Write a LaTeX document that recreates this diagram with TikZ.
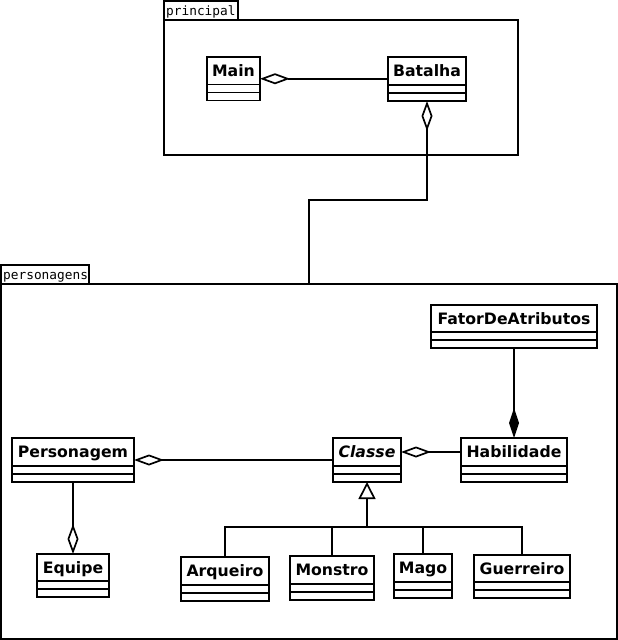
\documentclass[tikz,border=0pt]{standalone}
\usepackage{fontspec}
\setmainfont{DejaVu Sans}
\newfontfamily\tabfont{DejaVu Sans Mono}
\usetikzlibrary{arrows.meta,calc}
\tikzset{
  ln/.style={line width=1.7pt, line join=miter},
  classbox/.style={ln, draw, rectangle, inner sep=0pt, outer sep=0pt, fill=white},
  framebox/.style={ln, draw, rectangle, inner sep=0pt, outer sep=0pt},
  cname/.style={font=\fontsize{15.7}{15}\selectfont\bfseries, anchor=base, inner sep=0pt},
  tabtext/.style={font=\tabfont\fontsize{12.8}{12}\selectfont, anchor=base west, inner sep=0pt},
  agg/.style={ln, {Diamond[open, length=30pt, width=11pt, line width=1.7pt]}-},
  comp/.style={ln, {Diamond[length=30pt, width=10pt]}-},
  gen/.style={ln, -{Triangle[open, length=17pt, width=17pt, line width=1.7pt]}},
}
\newcommand{\umlbox}[6]{%
  \pgfmathsetmacro\bw{#4-#2}\pgfmathsetmacro\bh{#5-#3}%
  \node[classbox, minimum width=\bw pt, minimum height=\bh pt, anchor=north west] (#1) at (#2,#3) {};
  \draw[ln] ($(#1.south west)+(0,-16)$) -- ($(#1.south east)+(0,-16)$);
  \draw[ln] ($(#1.south west)+(0,-8)$) -- ($(#1.south east)+(0,-8)$);
  \node[cname] (#1-t) at ($(#1.north)+(0,19.5)$) {#6};
}
\newcommand{\framebx}[6]{%
  \pgfmathsetmacro\bw{#4-#2}\pgfmathsetmacro\bh{#5-#3}%
  \node[framebox, minimum width=\bw pt, minimum height=\bh pt, anchor=north west] (#1) at (#2,#3) {};
  \pgfmathsetmacro\tw{#6-#2}%
  \node[framebox, minimum width=\tw pt, minimum height=19pt, anchor=south west] (#1-tab) at (#2,#3) {};
}
\begin{document}
\begin{tikzpicture}[x=1pt, y=-1pt]
\useasboundingbox (0,0) rectangle (618,640);
% packages
\framebx{princ}{164}{20}{518}{155}{238}
\node[tabtext] at ($(princ-tab.south west)+(2,-5)$) {principal};
\framebx{pers}{1}{284}{617}{639}{89}
\node[tabtext] at ($(pers-tab.south west)+(2,-5)$) {personagens};
% classes
\umlbox{main}{207}{57}{260}{100.5}{Main}
\umlbox{batalha}{388}{57}{466}{101}{Batalha}
\umlbox{fator}{431}{305}{597}{348}{FatorDeAtributos}
\umlbox{habil}{461}{438}{567}{482}{Habilidade}
\umlbox{classe}{333}{438}{401}{482}{\itshape Classe}
\umlbox{persg}{12}{438}{134}{482}{Personagem}
\umlbox{equipe}{37}{554}{109}{597}{Equipe}
\umlbox{arq}{181}{557}{269}{601}{Arqueiro}
\umlbox{mon}{290}{556}{374}{600}{Monstro}
\umlbox{mago}{394}{554}{452}{598}{Mago}
\umlbox{guer}{474}{555}{570}{598}{Guerreiro}
% connectors
\draw[agg] (main.east) -- (main.east -| batalha.west);
\draw[agg] (batalha.south) -- (batalha.south |- 0,200) -| (pers.north);
\draw[comp] (habil.north) -- (fator.south);
\draw[agg] ($(classe.east)+(0,-8)$) -- ($(habil.west)+(0,-8)$);
\draw[agg] (persg.east) -- (classe.west);
\draw[agg] (equipe.north) -- (persg.south);
\coordinate (gj) at (367,527);
\draw[ln] (arq.north) |- (gj);
\draw[ln] (mon.north) |- (gj);
\draw[ln] (mago.north) |- (gj);
\draw[ln] (guer.north) |- (gj);
\draw[gen] (gj) -- (classe.south);
\end{tikzpicture}
\end{document}
